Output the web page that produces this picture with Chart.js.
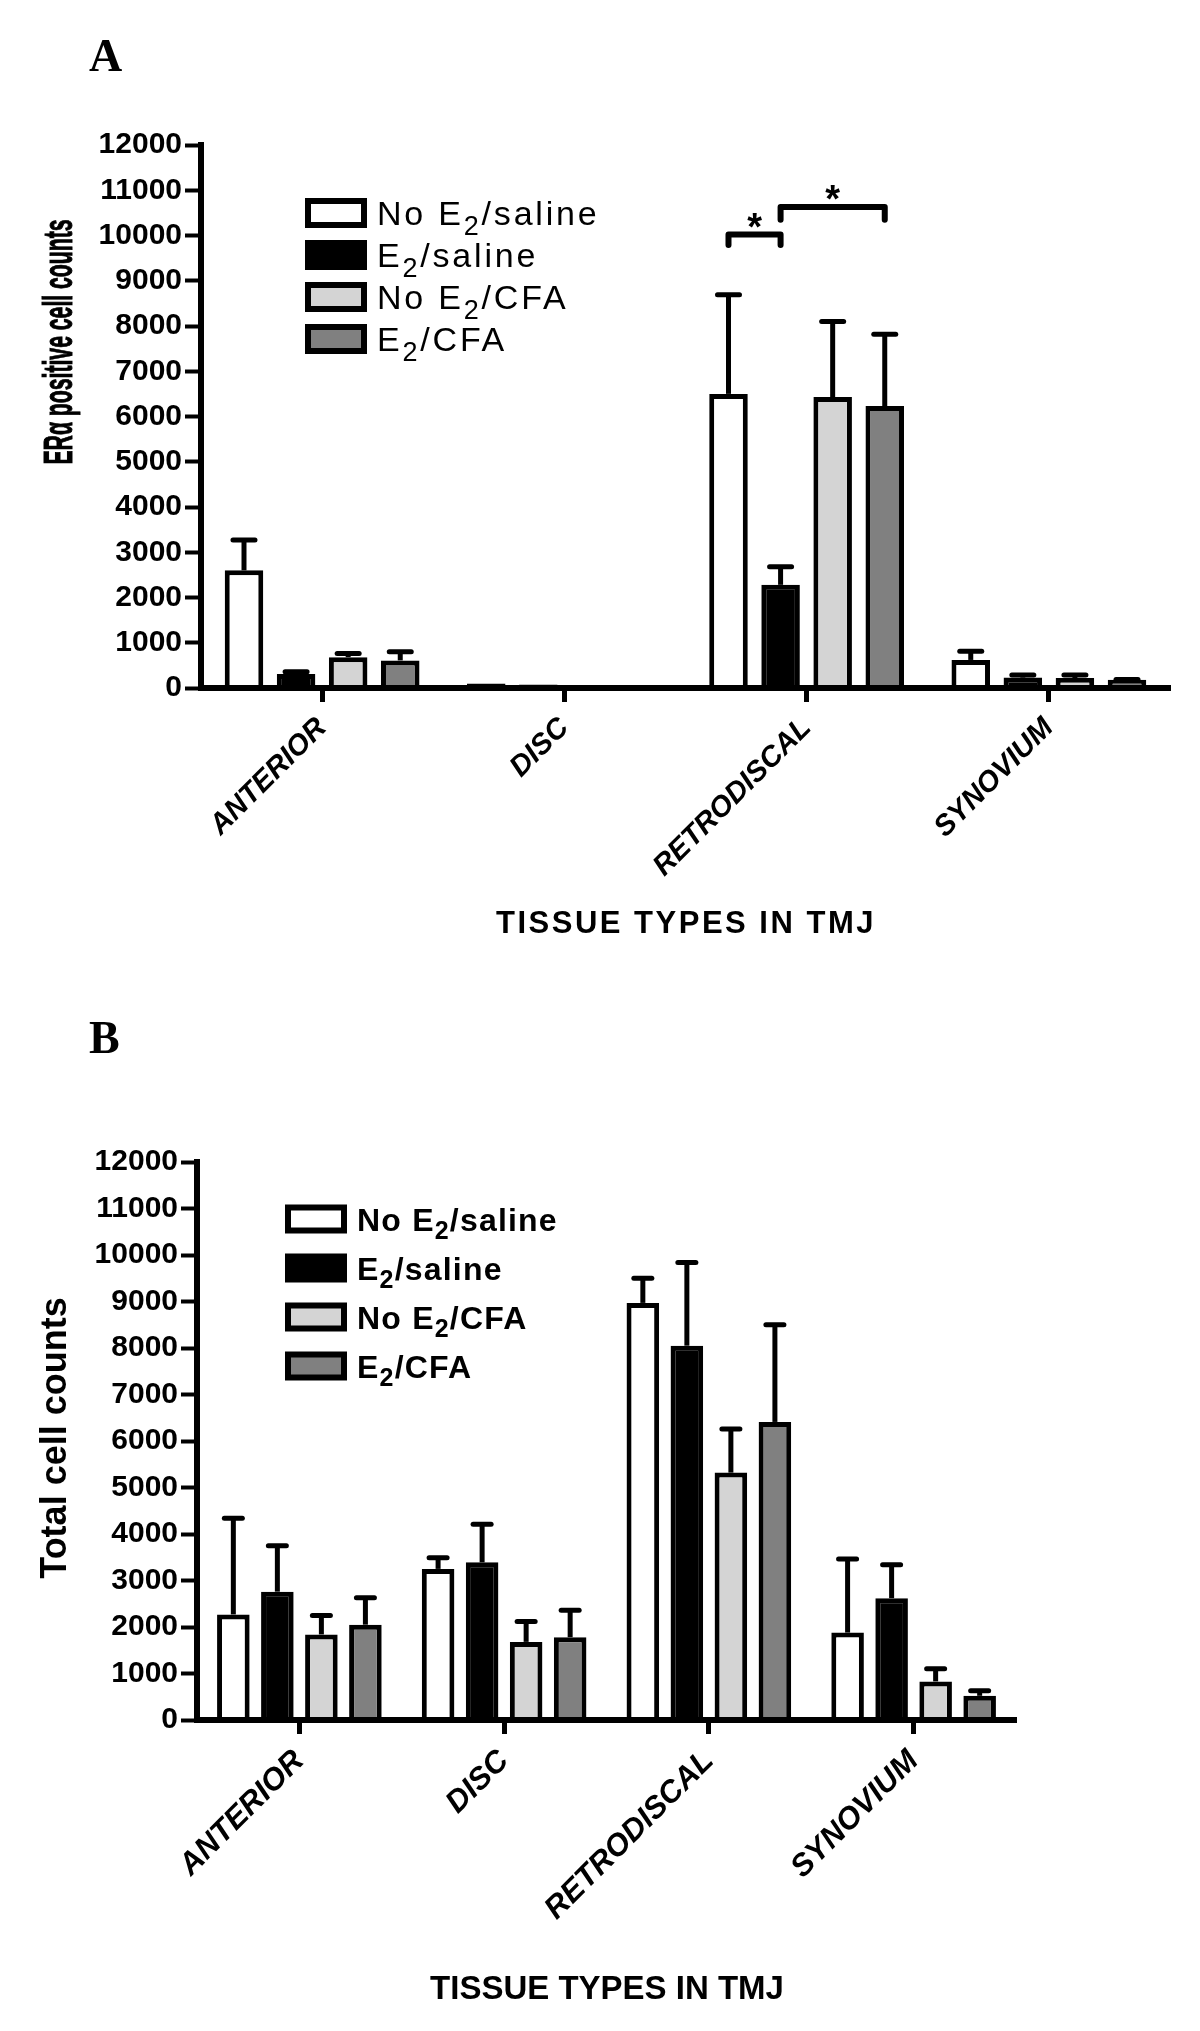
<!DOCTYPE html>
<html>
<head>
<meta charset="utf-8">
<script src="https://cdn.jsdelivr.net/npm/chart.js@4.4.0/dist/chart.umd.min.js"></script>
<style>
  body { margin: 0; background: #fff; }
  #page { position: relative; width: 1200px; height: 2031px; overflow: hidden; background: #fff; }
  canvas { position: absolute; left: 0; }
  .panel { position: absolute; left: 89px; font: bold 46px 'Liberation Serif', 'Times New Roman', serif; line-height: 1; color: #000; }
</style>
</head>
<body>
<div id="page">
  <canvas id="chartA" width="1200" height="1015" style="top:0"></canvas>
  <canvas id="chartB" width="1200" height="1016" style="top:1015px"></canvas>
  <div class="panel" style="top:33px">A</div>
  <div class="panel" style="top:1015px">B</div>
</div>
<script>
const categories = ['ANTERIOR', 'DISC', 'RETRODISCAL', 'SYNOVIUM'];
const seriesLabels = ['No E₂/saline', 'E₂/saline', 'No E₂/CFA', 'E₂/CFA'];
const seriesColors = ['#ffffff', '#000000', '#d4d4d4', '#808080'];
const yTickValues = [0, 1000, 2000, 3000, 4000, 5000, 6000, 7000, 8000, 9000, 10000, 11000, 12000];

// panel A: ERalpha positive cells (mean, upper SEM)
const erNoE2Saline = [2600, 100, 6500, 620];
const erNoE2SalineErr = [670, 0, 2190, 190];
const erE2Saline = [310, 80, 2280, 230];
const erE2SalineErr = [50, 0, 400, 60];
const erNoE2Cfa = [680, 0, 6430, 220];
const erNoE2CfaErr = [80, 0, 1670, 70];
const erE2Cfa = [610, 0, 6230, 180];
const erE2CfaErr = [190, 0, 1590, 10];

// panel B: total cells
const totNoE2Saline = [2270, 3250, 8970, 1880];
const totNoE2SalineErr = [2070, 240, 530, 1580];
const totE2Saline = [2760, 3390, 8050, 2620];
const totE2SalineErr = [990, 820, 1790, 720];
const totNoE2Cfa = [1840, 1680, 5320, 830];
const totNoE2CfaErr = [410, 440, 940, 270];
const totE2Cfa = [2050, 1780, 6410, 520];
const totE2CfaErr = [580, 580, 2090, 110];

// significance brackets in panel A (series index from/to, level in y units)
const sigBrackets = [
  { category: 2, from: 0, to: 1, level: 10020, drop: 230 },
  { category: 2, from: 1, to: 3, level: 10630, drop: 280 }
];

const SANS = "'Liberation Sans', Arial, Helvetica, sans-serif";

function makeDatasets(values, errors) {
  return values.map((vals, i) => ({
    label: seriesLabels[i],
    data: vals,
    errors: errors[i],
    backgroundColor: seriesColors[i],
    borderColor: '#000',
    borderWidth: 5,
    borderSkipped: 'start',
    categoryPercentage: 0.86,
    barPercentage: 0.74
  }));
}

function drawLabel(ctx, text, x, y, size) {
  // draws "E₂" with a lowered, smaller 2
  const parts = text.split('₂');
  let cx = x;
  parts.forEach((p, k) => {
    ctx.font = ctx._mainFont;
    ctx.fillText(p, cx, y);
    cx += ctx.measureText(p).width;
    if (k < parts.length - 1) {
      ctx.font = ctx._subFont;
      ctx.fillText('2', cx, y + size * 0.28);
      cx += ctx.measureText('2').width;
    }
  });
}

const decor = {
  id: 'decor',
  afterDatasetsDraw(chart, args, opts) {
    const ctx = chart.ctx;
    const y = chart.scales.y;
    ctx.save();
    ctx.strokeStyle = '#000';
    ctx.fillStyle = '#000';
    ctx.lineWidth = opts.errorWidth;
    chart.data.datasets.forEach((ds, i) => {
      chart.getDatasetMeta(i).data.forEach((bar, j) => {
        const err = ds.errors[j];
        if (!err) return;
        const yTop = y.getPixelForValue(ds.data[j] + err);
        ctx.lineCap = 'butt';
        ctx.beginPath();
        ctx.moveTo(bar.x, bar.y);
        ctx.lineTo(bar.x, yTop);
        ctx.stroke();
        ctx.lineCap = 'round';
        ctx.beginPath();
        ctx.moveTo(bar.x - opts.capWidth / 2, yTop);
        ctx.lineTo(bar.x + opts.capWidth / 2, yTop);
        ctx.stroke();
      });
    });
    (opts.brackets || []).forEach(b => {
      const x1 = chart.getDatasetMeta(b.from).data[b.category].x;
      const x2 = chart.getDatasetMeta(b.to).data[b.category].x;
      const yl = y.getPixelForValue(b.level);
      const yd = y.getPixelForValue(b.level - b.drop);
      ctx.lineWidth = 6;
      ctx.lineCap = 'round';
      ctx.lineJoin = 'round';
      ctx.beginPath();
      ctx.moveTo(x1, yd);
      ctx.lineTo(x1, yl);
      ctx.lineTo(x2, yl);
      ctx.lineTo(x2, yd);
      ctx.stroke();
      ctx.font = 'bold 38px ' + SANS;
      ctx.textAlign = 'center';
      ctx.textBaseline = 'alphabetic';
      ctx.fillText('*', (x1 + x2) / 2, yl + 5);
    });
    ctx.restore();
  },
  afterDraw(chart, args, opts) {
    const ctx = chart.ctx;
    ctx.save();
    ctx.fillStyle = '#000';

    // legend
    const lg = opts.legend;
    chart.data.datasets.forEach((ds, i) => {
      const cy = lg.top + i * lg.step;
      ctx.fillStyle = '#000';
      ctx.fillRect(lg.x, cy - lg.h / 2, lg.w, lg.h);
      ctx.fillStyle = ds.backgroundColor;
      ctx.fillRect(lg.x + 6, cy - lg.h / 2 + 6, lg.w - 12, lg.h - 12);
      ctx.fillStyle = '#000';
      ctx.textAlign = 'left';
      ctx.textBaseline = 'alphabetic';
      ctx.letterSpacing = lg.spacing;
      ctx._mainFont = lg.weight + ' ' + lg.size + 'px ' + SANS;
      ctx._subFont = lg.weight + ' ' + Math.round(lg.size * 0.78) + 'px ' + SANS;
      drawLabel(ctx, ds.label, lg.textX, cy + lg.size * 0.36, lg.size);
    });
    ctx.letterSpacing = '0px';

    // y title
    const yt = opts.yTitle;
    ctx.save();
    ctx.font = 'bold ' + yt.size + 'px ' + SANS;
    ctx.textAlign = 'center';
    ctx.textBaseline = 'alphabetic';
    ctx.translate(yt.x, yt.y);
    ctx.rotate(-Math.PI / 2);
    ctx.scale(yt.squeeze, 1);
    ctx.fillText(yt.text, 0, 0);
    if (yt.heavy) {
      ctx.strokeStyle = '#000';
      ctx.lineWidth = yt.heavy;
      ctx.strokeText(yt.text, 0, 0);
    }
    ctx.restore();

    // x title
    const xt = opts.xTitle;
    ctx.font = 'bold ' + xt.size + 'px ' + SANS;
    ctx.textAlign = 'center';
    ctx.textBaseline = 'middle';
    ctx.letterSpacing = xt.spacing;
    ctx.fillText(xt.text, xt.x, xt.y);
    ctx.letterSpacing = '0px';
    ctx.restore();
  }
};

function makeOptions(cfg) {
  return {
    responsive: false,
    animation: false,
    events: [],
    layout: { padding: { top: cfg.top, right: cfg.right, left: 0, bottom: 0 } },
    plugins: {
      legend: { display: false },
      tooltip: { enabled: false },
      decor: cfg.decor
    },
    scales: {
      x: {
        afterFit: s => { s.height = cfg.xHeight; },
        grid: { offset: false, drawOnChartArea: false, tickLength: 14, tickWidth: 5, tickColor: '#000' },
        border: { display: true, color: '#000', width: 6, z: 1 },
        ticks: {
          color: '#000',
          autoSkip: false,
          minRotation: 45,
          maxRotation: 45,
          padding: 9,
          font: { family: SANS, weight: 'bold', style: 'italic', size: cfg.xFont }
        }
      },
      y: {
        min: 0,
        max: 12000,
        afterFit: s => { s.width = cfg.yWidth; },
        afterBuildTicks: s => { s.ticks = yTickValues.map(v => ({ value: v })); },
        grid: { drawOnChartArea: false, tickLength: 16, tickWidth: 4, tickColor: '#000' },
        border: { display: true, color: '#000', width: 6 },
        ticks: {
          color: '#000',
          padding: 3,
          callback: v => String(v),
          font: { family: SANS, weight: 'bold', size: 30 }
        }
      }
    }
  };
}

new Chart(document.getElementById('chartA'), {
  type: 'bar',
  data: {
    labels: categories,
    datasets: makeDatasets(
      [erNoE2Saline, erE2Saline, erNoE2Cfa, erE2Cfa],
      [erNoE2SalineErr, erE2SalineErr, erNoE2CfaErr, erE2CfaErr]
    )
  },
  options: makeOptions({
    top: 145, right: 30, xHeight: 327, yWidth: 201, xFont: 29,
    decor: {
      errorWidth: 5, capWidth: 22,
      brackets: sigBrackets,
      legend: { x: 305, w: 62, h: 30, top: 213, step: 42, textX: 377, size: 34, weight: 'normal', spacing: '2.8px' },
      yTitle: { text: 'ERα positive cell counts', x: 72, y: 342, size: 40, squeeze: 0.53, heavy: 1 },
      xTitle: { text: 'TISSUE TYPES IN TMJ', x: 686, y: 924, size: 31, spacing: '2.5px' }
    }
  }),
  plugins: [decor]
});

new Chart(document.getElementById('chartB'), {
  type: 'bar',
  data: {
    labels: categories,
    datasets: makeDatasets(
      [totNoE2Saline, totE2Saline, totNoE2Cfa, totE2Cfa],
      [totNoE2SalineErr, totE2SalineErr, totNoE2CfaErr, totE2CfaErr]
    )
  },
  options: makeOptions({
    top: 147, right: 184, xHeight: 311, yWidth: 197, xFont: 31,
    decor: {
      errorWidth: 5, capWidth: 18,
      legend: { x: 285, w: 62, h: 29, top: 204, step: 49, textX: 357, size: 32, weight: 'bold', spacing: '1.2px' },
      yTitle: { text: 'Total cell counts', x: 66, y: 423, size: 36, squeeze: 1 },
      xTitle: { text: 'TISSUE TYPES IN TMJ', x: 607, y: 975, size: 33, spacing: '0px' }
    }
  }),
  plugins: [decor]
});
</script>
</body>
</html>
